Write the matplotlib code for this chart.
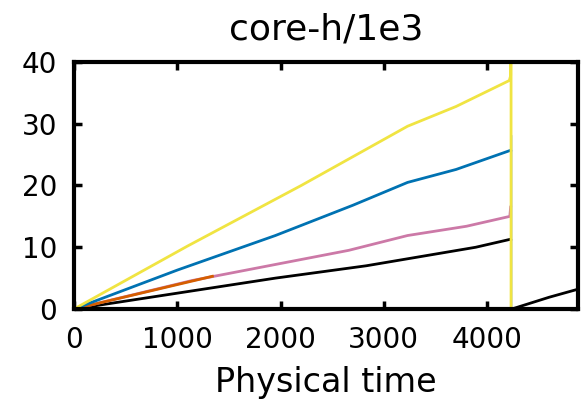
import matplotlib
matplotlib.use("Agg")
import matplotlib.pyplot as plt

# Cumulative cost (core-hours / 1000) against physical time, one series per run
yellow_t = [0, 1100, 2200, 3230, 3700, 4215, 4228, 4232, 4232]
yellow_c = [0, 10.2, 20.0, 29.6, 32.8, 37.0, 37.8, 60.0, 0.0]

blue_t = [0, 1000, 1950, 2700, 3230, 3700, 4228]
blue_c = [0, 6.3, 11.9, 16.8, 20.5, 22.6, 25.7]

pink_t = [0, 1140, 2660, 3230, 3800, 4220, 4228]
pink_c = [0, 4.6, 9.5, 11.9, 13.4, 15.0, 16.5]

orange_t = [0, 1340]
orange_c = [0, 5.3]

black_t = [0, 1950, 2830, 3890, 4228]
black_c = [0, 5.0, 7.0, 10.0, 11.3]

black2_t = [4240, 4600, 4900]
black2_c = [0, 1.9, 3.3]

ghost_t = [4245, 4245]
ghost_c = [28.0, 0.0]

fig = plt.figure(figsize=(5.81, 4.0), dpi=100)
ax = fig.add_axes([0.1274, 0.2275, 0.8674, 0.6175])

lw = 2.0
ax.plot(ghost_t, ghost_c, color="#c9dbe6", lw=1.2)
ax.plot(black_t, black_c, color="black", lw=lw)
ax.plot(black2_t, black2_c, color="black", lw=lw)
ax.plot(pink_t, pink_c, color="#cc79a7", lw=lw)
ax.plot(orange_t, orange_c, color="#d55e00", lw=lw)
ax.plot(blue_t, blue_c, color="#0072b2", lw=lw)
ax.plot(yellow_t, yellow_c, color="#f0e442", lw=lw)

ax.set_xlim(0, 4880)
ax.set_ylim(0, 40)
ax.set_xticks([0, 1000, 2000, 3000, 4000])
ax.set_yticks([0, 10, 20, 30, 40])

for s in ax.spines.values():
    s.set_linewidth(3)
ax.tick_params(direction="in", length=6, width=2.5, labelsize=20,
               top=True, right=True, pad=12)

ax.set_title("core-h/1e3", fontsize=26, pad=16)
ax.set_xlabel("Physical time", fontsize=24, labelpad=9)

fig.savefig("out.png", dpi=100)
